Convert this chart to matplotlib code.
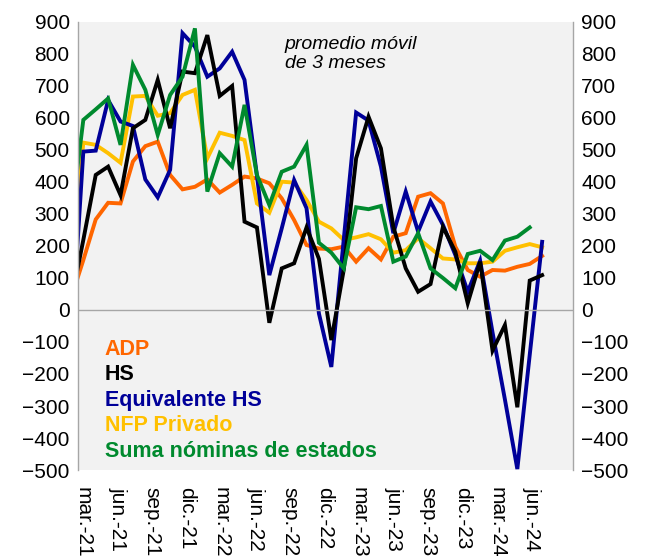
import matplotlib
matplotlib.use('Agg')
import matplotlib.pyplot as plt
import numpy as np

plt.rcParams['font.family'] = ['Liberation Sans', 'DejaVu Sans']

# monthly points, first one (index -1) sits just left of the plot edge
months = np.arange(-1, 38)

adp = [35, 156, 283, 335, 333, 464, 512, 526, 422, 377, 385, 408, 367, 391, 417, 411,
       396, 349, 281, 203, 192, 190, 198, 151, 193, 158, 229, 240, 354, 365, 333, 198,
       125, 104, 125, 123, 135, 144, 169]
hs = [24, 219, 422, 448, 359, 568, 594, 719, 568, 745, 740, 859, 669, 700, 276, 258,
      -40, 130, 146, 258, 160, -94, 125, 474, 604, 505, 260, 130, 57, 81, 260, 182,
      21, 151, -127, -47, -304, 92, 109]
equiv_hs = [-120, 495, 498, 656, 589, 575, 408, 352, 438, 865, 823, 729, 755, 807, 719,
            420, 109, 255, 406, 318, -11, -178, 220, 617, 592, 448, 240, 370, 245, 339,
            266, 172, 57, 154, -70, -280, -497, -140, 213]
nfp_priv = [107, 523, 516, 490, 460, 667, 669, 607, 615, 672, 688, 474, 554, 544, 531,
            333, 304, 401, 398, 344, 276, 255, 219, 227, 237, 221, 179, 187, 224, 193,
            161, 158, 146, 146, 151, 185, 196, 206, 196]
estados = [280, 594, 627, 661, 516, 766, 688, 547, 672, 729, 880, 370, 490, 448, 641,
           422, 328, 432, 448, 516, 210, 179, 130, 321, 315, 325, 151, 167, 240, 130,
           100, 68, 175, 185, 156, 217, 229, 258, np.nan]

tick_labels = ['mar.-21', 'jun.-21', 'sep.-21', 'dic.-21', 'mar.-22', 'jun.-22',
               'sep.-22', 'dic.-22', 'mar.-23', 'jun.-23', 'sep.-23', 'dic.-23',
               'mar.-24', 'jun.-24']
label_step = 2.782  # date axis: one label every ~2.78 data points

series = [
    ('ADP', adp, '#FF6600'),
    ('NFP Privado', nfp_priv, '#FFC000'),
    ('Equivalente HS', equiv_hs, '#000099'),
    ('HS', hs, '#000000'),
    ('Suma nóminas de estados', estados, '#008A2E'),
]
legend_order = ['ADP', 'HS', 'Equivalente HS', 'NFP Privado', 'Suma nóminas de estados']
colors = {name: c for name, _, c in series}

fig = plt.figure(figsize=(6.51, 5.58), dpi=100)
ax = fig.add_axes([0.1198, 0.1577, 0.7604, 0.8029])
ax.set_facecolor('#F2F2F2')

for name, vals, c in series:
    ax.plot(months, vals, color=c, lw=2.8, solid_joinstyle='miter')

ax.axhline(0, color='#A6A6A6', lw=1)
ax.set_xlim(-0.43, 39.49)
ax.set_ylim(-500, 900)
ax.set_yticks(np.arange(-500, 901, 100))

ax.set_xticks(np.arange(len(tick_labels)) * label_step)
ax.set_xticklabels(tick_labels, rotation=270, ha='center', va='top')

ax.tick_params(axis='x', length=0, pad=12, labelsize=15)
ax.tick_params(axis='y', length=0, labelsize=15, left=True, right=True,
               labelleft=True, labelright=True, pad=6)
ax.tick_params(axis='y', which='major', labelright=True, pad=6)
for lab in ax.yaxis.get_majorticklabels():
    lab.set_fontsize(15)

for side in ['top', 'bottom']:
    ax.spines[side].set_visible(False)
for side in ['left', 'right']:
    ax.spines[side].set_color('#A6A6A6')
    ax.spines[side].set_linewidth(1)

ax.text(0.418, 0.968, 'promedio móvil\nde 3 meses', transform=ax.transAxes,
        fontsize=14, style='italic', va='top', ha='left', linespacing=1.1)

for k, name in enumerate(legend_order):
    ax.text(0.0545, 0.270 - k * 0.057, name, transform=ax.transAxes,
            fontsize=15.5, fontweight='bold', color=colors[name], va='center', ha='left')

fig.savefig('out.png', dpi=100)
